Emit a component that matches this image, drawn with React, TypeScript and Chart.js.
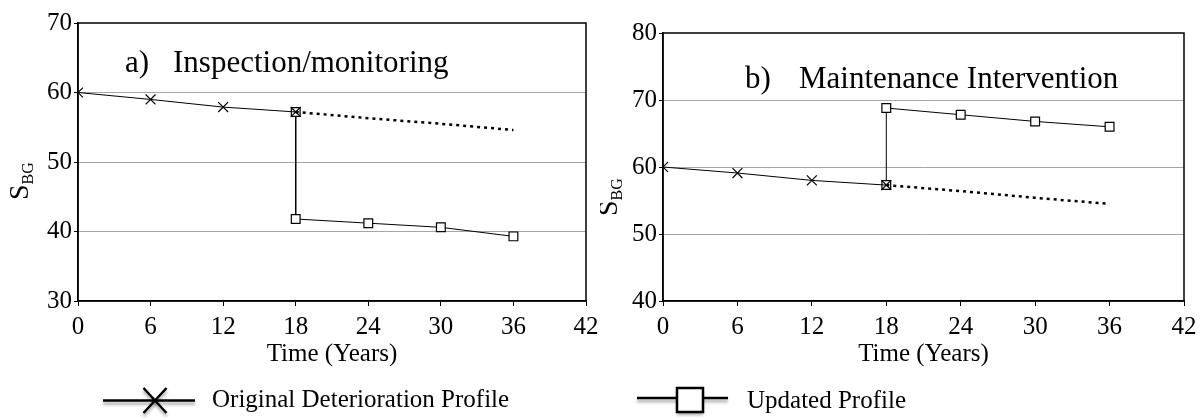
import React, { useEffect, useRef } from "react";
import { Chart, registerables } from "chart.js";

Chart.register(...registerables);

// ---------- data ----------
const years = [0, 6, 12, 18, 24, 30, 36];
const xTicks = [0, 6, 12, 18, 24, 30, 36, 42];

// panel a) Inspection/monitoring
const aOriginal = [60, 59.0, 57.9, 57.2]; // years 0..18
const aProjected = [57.2, 56.3, 55.5, 54.6]; // years 18..36 (dotted)
const aUpdatedYears = [18, 18, 24, 30, 36];
const aUpdated = [57.2, 41.8, 41.2, 40.6, 39.3];
const aYTicks = [30, 40, 50, 60, 70];

// panel b) Maintenance Intervention
const bOriginal = [60, 59.1, 58.0, 57.3];
const bProjected = [57.3, 56.4, 55.4, 54.5];
const bUpdatedYears = [18, 18, 24, 30, 36];
const bUpdated = [57.3, 68.8, 67.8, 66.8, 66.0];
const bYTicks = [40, 50, 60, 70, 80];

const FONT = "'Liberation Serif', 'Times New Roman', serif";

type Panel = {
  original: number[];
  projected: number[];
  updatedYears: number[];
  updated: number[];
  yTicks: number[];
  yWidth: number;
  top: number;
  right: number;
  tag: string;
  title: string;
  tagX: number;
  titleX: number;
  titleBase: number;
  sbgX: number;
  sbgY: number;
  legend: {
    kind: "cross" | "rect";
    x1: number;
    x2: number;
    ly: number;
    mx: number;
    my: number;
    text: string;
    tx: number;
    tb: number;
  };
};

function makeConfig(p: Panel): any {
  const yMin = p.yTicks[0];
  const yMax = p.yTicks[p.yTicks.length - 1];
  const origYears = years.slice(0, p.original.length);
  const projYears = years.slice(3, 3 + p.projected.length);

  const decor = {
    id: "decor",
    beforeDatasetsDraw(chart: any) {
      const { ctx, chartArea: a } = chart;
      ctx.save();
      ctx.strokeStyle = "#000";
      ctx.lineWidth = 1.5;
      ctx.strokeRect(a.left, a.top, a.right - a.left, a.bottom - a.top);
      ctx.restore();
    },
    afterDraw(chart: any) {
      const { ctx } = chart;
      ctx.save();
      ctx.fillStyle = "#000";
      // panel title
      ctx.font = `31px ${FONT}`;
      ctx.textBaseline = "alphabetic";
      ctx.textAlign = "left";
      ctx.fillText(p.tag, p.tagX, p.titleBase);
      ctx.fillText(p.title, p.titleX, p.titleBase);
      // y axis title S_BG (rotated)
      ctx.save();
      ctx.translate(p.sbgX, p.sbgY);
      ctx.rotate(-Math.PI / 2);
      ctx.font = `28px ${FONT}`;
      ctx.fillText("S", 0, 0);
      const sw = ctx.measureText("S").width;
      ctx.font = `16px ${FONT}`;
      ctx.fillText("BG", sw, 5);
      ctx.restore();
      // legend
      const L = p.legend;
      ctx.save();
      ctx.shadowColor = "rgba(0,0,0,0.35)";
      ctx.shadowBlur = 3;
      ctx.shadowOffsetY = 3;
      ctx.strokeStyle = "#000";
      ctx.lineWidth = 2.5;
      ctx.beginPath();
      ctx.moveTo(L.x1, L.ly);
      ctx.lineTo(L.x2, L.ly);
      ctx.stroke();
      if (L.kind === "cross") {
        const h = 11.5;
        ctx.beginPath();
        ctx.moveTo(L.mx - h, L.my - h - 1);
        ctx.lineTo(L.mx + h, L.my + h + 1);
        ctx.moveTo(L.mx + h, L.my - h - 1);
        ctx.lineTo(L.mx - h, L.my + h + 1);
        ctx.stroke();
      } else {
        const w = 13, hh = 12;
        ctx.fillStyle = "#fff";
        ctx.fillRect(L.mx - w, L.my - hh, 2 * w, 2 * hh);
        ctx.shadowColor = "rgba(0,0,0,0)";
        ctx.strokeRect(L.mx - w, L.my - hh, 2 * w, 2 * hh);
      }
      ctx.restore();
      ctx.fillStyle = "#000";
      ctx.font = `25px ${FONT}`;
      ctx.fillText(L.text, L.tx, L.tb);
      ctx.restore();
    },
  };

  const tickFont = { family: FONT, size: 25 };

  return {
    type: "line",
    data: {
      datasets: [
        {
          label: "Original Deterioration Profile",
          data: p.original.map((v, i) => ({ x: origYears[i], y: v })),
          borderColor: "#000",
          borderWidth: 1,
          pointStyle: "crossRot",
          pointRadius: 7,
          pointBorderWidth: 1.2,
          pointBorderColor: "#000",
          pointBackgroundColor: "#000",
          fill: false,
          tension: 0,
        },
        {
          label: "Projection",
          data: p.projected.map((v, i) => ({ x: projYears[i], y: v })),
          borderColor: "#000",
          borderWidth: 2.5,
          borderDash: [3, 4],
          pointRadius: 0,
          fill: false,
          tension: 0,
        },
        {
          label: "Updated Profile",
          data: p.updated.map((v, i) => ({ x: p.updatedYears[i], y: v })),
          borderColor: "#000",
          borderWidth: 1,
          pointStyle: "rect",
          pointRadius: 6.2,
          pointBorderWidth: 1.2,
          pointBorderColor: "#000",
          pointBackgroundColor: "#fff",
          fill: false,
          tension: 0,
        },
      ],
    },
    options: {
      animation: false,
      responsive: false,
      maintainAspectRatio: false,
      events: [],
      layout: { padding: { left: 0, top: p.top, right: p.right, bottom: 51 } },
      plugins: {
        legend: { display: false },
        tooltip: { enabled: false },
        title: { display: false },
      },
      elements: { line: { borderCapStyle: "butt" } },
      scales: {
        x: {
          type: "linear",
          min: 0,
          max: 42,
          afterBuildTicks: (s: any) => {
            s.ticks = xTicks.map((v) => ({ value: v }));
          },
          afterFit: (s: any) => {
            s.height = 68;
          },
          grid: {
            drawOnChartArea: false,
            drawTicks: true,
            tickLength: 5,
            tickColor: "#000",
            tickWidth: 1,
          },
          border: { color: "#000", width: 1.5 },
          ticks: {
            font: tickFont,
            color: "#000",
            padding: 6,
            maxRotation: 0,
            autoSkip: false,
          },
          title: {
            display: true,
            text: "Time (Years)",
            font: tickFont,
            color: "#000",
            padding: 0,
          },
        },
        y: {
          type: "linear",
          min: yMin,
          max: yMax,
          afterBuildTicks: (s: any) => {
            s.ticks = p.yTicks.map((v) => ({ value: v }));
          },
          afterFit: (s: any) => {
            s.width = p.yWidth;
          },
          grid: {
            color: (c: any) =>
              c.tick && (c.tick.value === yMin || c.tick.value === yMax)
                ? "rgba(0,0,0,0)"
                : "#a6a6a6",
            lineWidth: 1,
            tickColor: "#000",
            tickLength: 4,
          },
          border: { color: "#000", width: 1.5 },
          ticks: { font: tickFont, color: "#000", padding: 2 },
        },
      },
    },
    plugins: [decor],
  };
}

const panelA: Panel = {
  original: aOriginal,
  projected: aProjected,
  updatedYears: aUpdatedYears,
  updated: aUpdated,
  yTicks: aYTicks,
  yWidth: 78,
  top: 23,
  right: 19,
  tag: "a)",
  title: "Inspection/monitoring",
  tagX: 125,
  titleX: 173,
  titleBase: 72,
  sbgX: 28,
  sbgY: 200,
  legend: {
    kind: "cross",
    x1: 103,
    x2: 195,
    ly: 400.5,
    mx: 155,
    my: 400.5,
    text: "Original Deterioration Profile",
    tx: 212,
    tb: 407,
  },
};

const panelB: Panel = {
  original: bOriginal,
  projected: bProjected,
  updatedYears: bUpdatedYears,
  updated: bUpdated,
  yTicks: bYTicks,
  yWidth: 63,
  top: 33,
  right: 19,
  tag: "b)",
  title: "Maintenance Intervention",
  tagX: 145,
  titleX: 199,
  titleBase: 87.5,
  sbgX: 17,
  sbgY: 216,
  legend: {
    kind: "rect",
    x1: 37,
    x2: 128,
    ly: 398,
    mx: 90,
    my: 400,
    text: "Updated Profile",
    tx: 147,
    tb: 408,
  },
};

function PanelChart({ panel, width, left }: { panel: Panel; width: number; left: number }) {
  const ref = useRef<HTMLCanvasElement | null>(null);
  useEffect(() => {
    if (!ref.current) return;
    const chart = new Chart(ref.current, makeConfig(panel));
    return () => chart.destroy();
  }, [panel]);
  return (
    <canvas
      ref={ref}
      width={width}
      height={420}
      style={{
        position: "absolute",
        left: left + "px",
        top: 0,
        width: width + "px",
        height: "420px",
        display: "block",
      }}
    />
  );
}

export default function App() {
  return (
    <div
      style={{
        position: "absolute",
        left: 0,
        top: 0,
        width: 1203,
        height: 420,
        background: "#fff",
        overflow: "hidden",
      }}
    >
      <PanelChart panel={panelA} width={605} left={0} />
      <PanelChart panel={panelB} width={603} left={600} />
    </div>
  );
}
